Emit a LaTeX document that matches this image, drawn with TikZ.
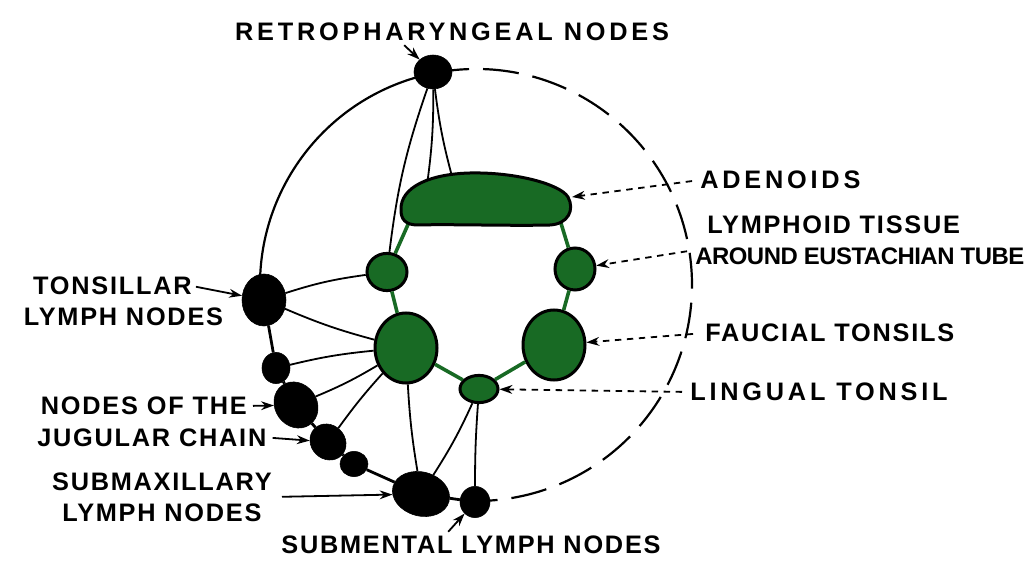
\documentclass[tikz,border=0pt]{standalone}
\usepackage{fontspec}
\setmainfont{Liberation Sans}
\newfontfamily\labfont[LetterSpace=7]{Liberation Sans}
\newfontfamily\widefont[LetterSpace=15]{Liberation Sans}
\newfontfamily\tightfont[LetterSpace=-2]{Liberation Sans}
\usetikzlibrary{arrows.meta,calc,positioning,shapes.geometric}
\definecolor{tissue}{RGB}{24,106,36}

\begin{document}
\begin{tikzpicture}[
		x=0.25mm, y=0.25mm,
		lymph/.style={ellipse, draw=black, fill=black, inner sep=0pt},
		tonsil/.style={ellipse, draw=black, line width=0.75mm, fill=tissue, inner sep=0pt},
		vessel/.style={line width=0.45mm},
		chain/.style={line width=0.7mm},
		ring/.style={line width=0.9mm, draw=tissue},
		lab/.style={font=\labfont\fontsize{18}{22}\selectfont\bfseries, inner sep=0pt},
		widelab/.style={font=\widefont\fontsize{18}{22}\selectfont\bfseries, inner sep=0pt},
		tightlab/.style={font=\tightfont\fontsize{17}{22}\selectfont\bfseries, inner sep=0pt},
		pointer/.style={line width=0.45mm, -{Stealth[length=3.2mm, width=2.2mm]}},
		dotpointer/.style={pointer, dash pattern=on 1.6mm off 1.4mm},
	]
	\useasboundingbox (0,0) rectangle (1036,562);
	\coordinate (ctr) at (476,277);
	\coordinate (adenoids) at (485,362);

	% outer ring, solid on the left, dashed on the right
	\draw[line width=0.55mm] (ctr) ++(101.4:54mm) arc[start angle=101.4, end angle=183.5, radius=54mm];
	\draw[line width=0.55mm, dash pattern=on 9mm off 3.5mm] (ctr) ++(101.4:54mm) arc[start angle=101.4, end angle=-88, radius=54mm];

	% lymph nodes
	\node[lymph, minimum width=9.5mm, minimum height=8.5mm] (retro) at (433,490) {};
	\node[lymph, minimum width=11mm, minimum height=13mm] (tons) at (264,262) {};
	\node[lymph, minimum width=7mm, minimum height=7.8mm] (jug1) at (276,194) {};
	\node[lymph, minimum width=12mm, minimum height=10.5mm, rotate=-55] (jug2) at (296,157) {};
	\node[lymph, minimum width=9.5mm, minimum height=8.5mm, rotate=-45] (jug3) at (328,120) {};
	\node[lymph, minimum width=7mm, minimum height=6.3mm] (jug4) at (354,98) {};
	\node[lymph, minimum width=14.5mm, minimum height=11mm, rotate=-15] (submax) at (421,68) {};
	\node[lymph, minimum width=7.5mm, minimum height=7.8mm] (subment) at (475,60) {};

	% lymphoid tissue of the ring
	\node[tonsil, minimum width=10mm, minimum height=9.3mm] (eustL) at (387,290) {};
	\node[tonsil, minimum width=10mm, minimum height=10.5mm] (eustR) at (575,293) {};
	\node[tonsil, minimum width=15.5mm, minimum height=17.5mm] (faucL) at (406,214) {};
	\node[tonsil, minimum width=15.5mm, minimum height=17.5mm] (faucR) at (554,217) {};
	\node[tonsil, minimum width=9.5mm, minimum height=6.8mm] (lingual) at (479,173) {};

	% lymph vessels
	\draw[vessel] (retro) to[bend right=6] (eustL);
	\draw[vessel] (retro) to[bend left=4] ([shift={(-58,15)}]adenoids);
	\draw[vessel] (retro) to[bend right=4] ([shift={(-32,20)}]adenoids);
	\draw[vessel] (tons) to[bend left=5] (eustL);
	\draw[vessel] (tons) to[bend right=4] (faucL);
	\draw[vessel] (jug1) to[bend left=4] (faucL);
	\draw[vessel] (jug2) to[bend right=4] (faucL);
	\draw[vessel] (jug3) to[bend left=3] (faucL);
	\draw[vessel] (faucL) to[bend right=3] (submax);
	\draw[vessel] (lingual) to[bend left=4] (submax);
	\draw[vessel] (lingual) to[bend right=2] (subment);
	\draw[chain] (tons) -- (jug1) -- (jug2) -- (jug3) -- (jug4) -- (submax) -- (subment);

	\draw[ring] ([shift={(-75,-20)}]adenoids) -- (eustL) -- (faucL) -- (lingual) -- (faucR) -- (eustR) -- ([shift={(75,-20)}]adenoids);

	% adenoids
	\draw[line width=0.75mm, fill=tissue] (401,352)
		.. controls (400,375) and (430,388) .. (470,389)
		.. controls (515,390) and (560,378) .. (568,365)
		.. controls (575,352) and (568,338) .. (550,337)
		.. controls (510,336) and (450,338) .. (418,337)
		.. controls (405,337) and (401,343) .. (401,352) -- cycle;

	% labels
	\node[widelab] (retro-lab) at (452,530) {RETROPHARYNGEAL NODES};
	\node[widelab, anchor=west] (adenoids-lab) at (700,382) {ADENOIDS};
	\node[lab, anchor=west] (eust-lab) at (707,337) {LYMPHOID TISSUE};
	\node[tightlab, anchor=west] (eust-lab2) at (695,306) {AROUND EUSTACHIAN TUBE};
	\node[lab, anchor=west] (faucial-lab) at (705,229) {FAUCIAL TONSILS};
	\node[widelab, anchor=west] (lingual-lab) at (690,170) {LINGUAL TONSIL};
	\node[lab, anchor=east] (tons-lab) at (192,276) {TONSILLAR};
	\node[lab, below=3mm of tons-lab, xshift=2.75mm] (tons-lab2) {LYMPH NODES};
	\node[lab, anchor=east] (jugular-lab) at (247,156) {NODES OF THE};
	\node[lab, below=3.25mm of jugular-lab, xshift=2mm] (jugular-lab2) {JUGULAR CHAIN};
	\node[lab, anchor=east, align=center] (submax-lab) at (272,65) {SUBMAXILLARY\\LYMPH NODES};
	\node[lab] (subment-lab) at (471,17) {SUBMENTAL LYMPH NODES};

	\draw[pointer] ($(retro-lab.south west)!0.39!(retro-lab.south east)$) ++(0,-1mm) -- (retro);
	\draw[dotpointer, shorten <=2mm] (adenoids-lab.west) -- ([shift={(87,3)}]adenoids);
	\draw[dotpointer, shorten <=2mm] ([yshift=1.5mm]eust-lab2.west) -- (eustR);
	\draw[dotpointer, shorten <=3mm] (faucial-lab.west) -- (faucR);
	\draw[dotpointer, shorten <=2mm] (lingual-lab.west) -- (lingual);
	\draw[pointer, shorten <=1mm] (tons-lab.east) -- (tons);
	\draw[pointer, shorten <=1.5mm] (jugular-lab.east) -- (jug2);
	\draw[pointer, shorten <=1.5mm] (jugular-lab2.east) -- (jug3);
	\draw[pointer, shorten <=2.5mm] (submax-lab.east) -- (submax);
	\draw[pointer] ($(subment-lab.north west)!0.44!(subment-lab.north east)$) ++(0,1mm) -- (subment);
\end{tikzpicture}
\end{document}
